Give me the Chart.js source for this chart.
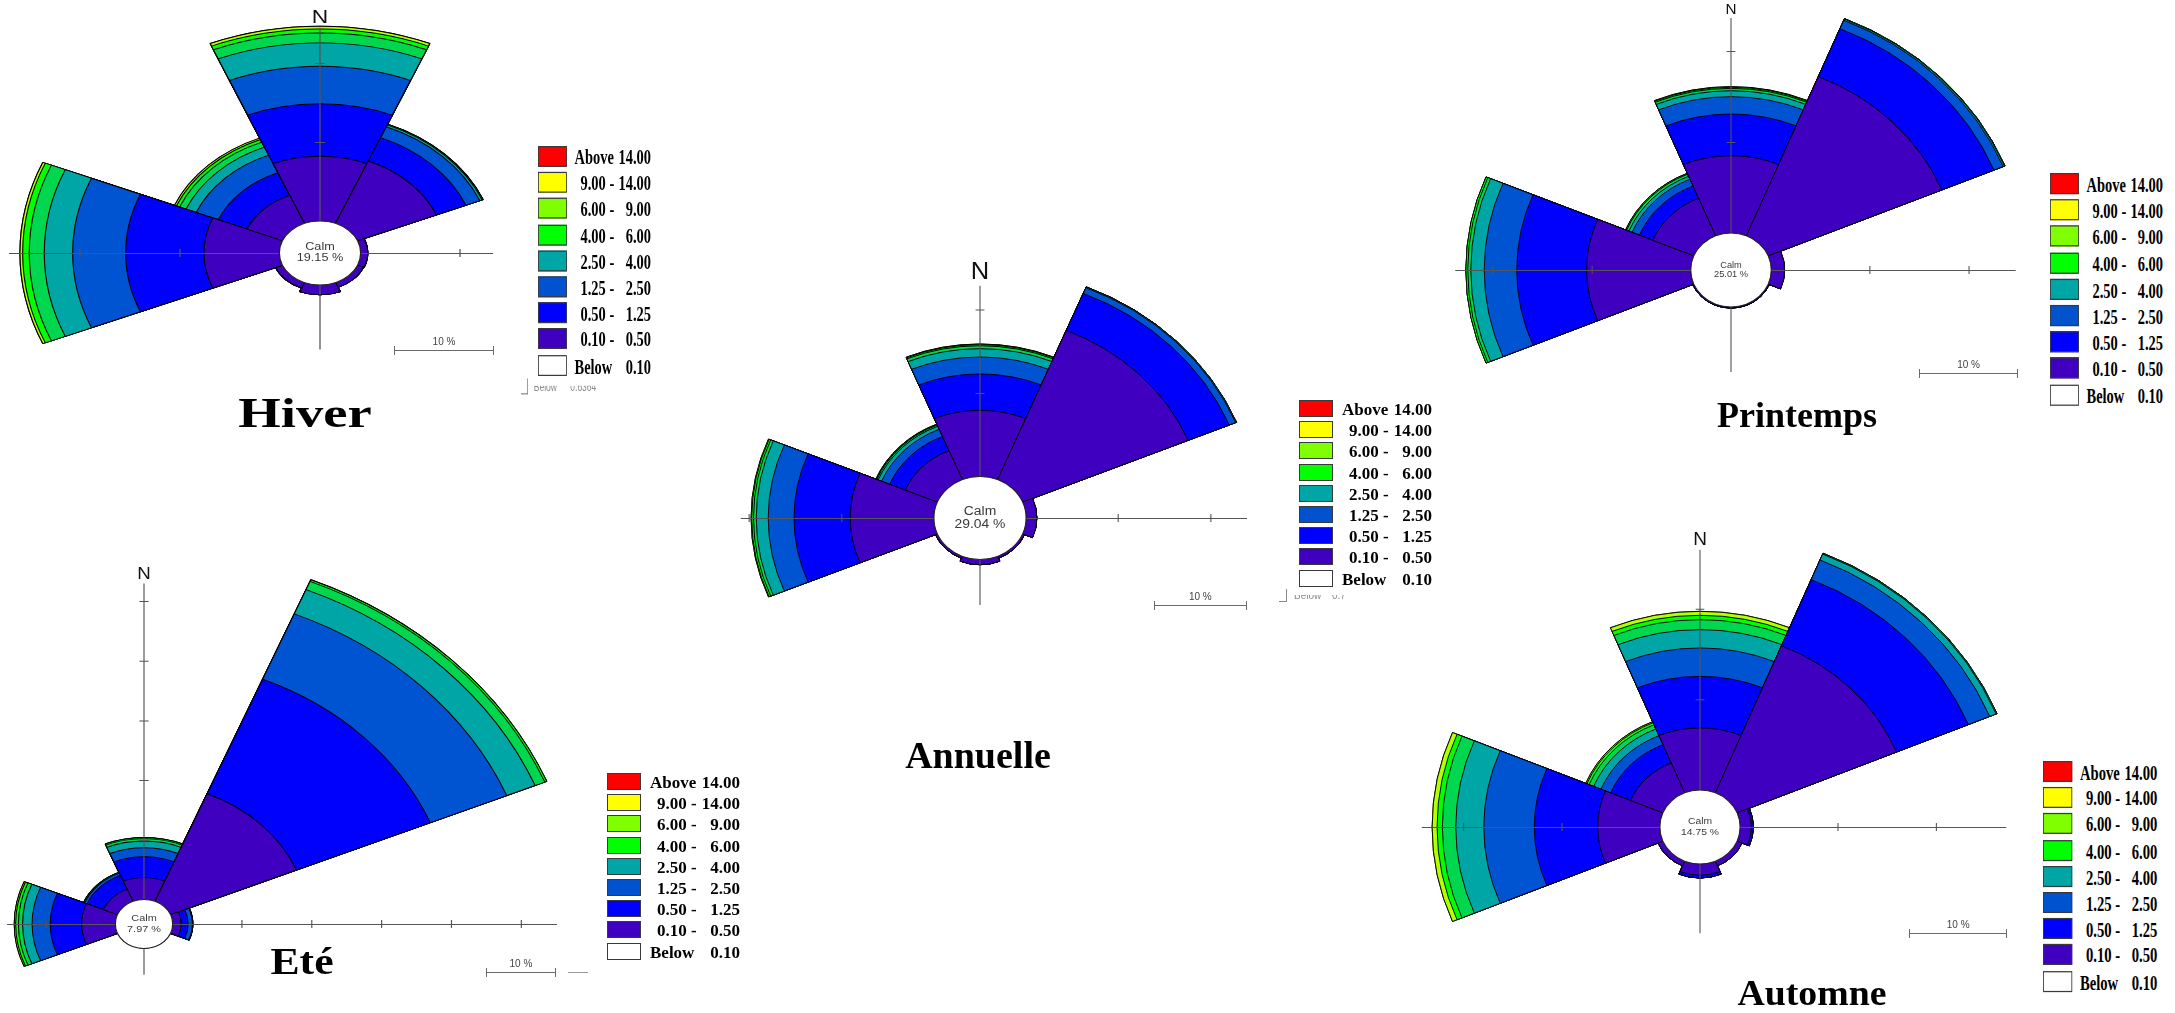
<!DOCTYPE html>
<html>
<head>
<meta charset="utf-8">
<script src="https://cdn.jsdelivr.net/npm/chart.js@4.4.1/dist/chart.umd.min.js"></script>
<style>
  html, body { margin: 0; padding: 0; background: #fff; }
  #page { position: relative; width: 2175px; height: 1013px; overflow: hidden; background: #fff; }
  canvas.rose { position: absolute; }
  .legend { position: absolute; transform-origin: 0 0; font-family: "Liberation Serif", "Times New Roman", serif; font-weight: bold; font-size: 17px; line-height: 17px; color: #000; }
  .legend .row { position: absolute; left: 0; width: 133px; height: 17px; }
  .legend .box { position: absolute; left: 0; top: 0; width: 32px; height: 15px; border: 1px solid #3a3a3a; }
  .legend .a { position: absolute; top: 1px; white-space: pre; }
  .legend .b { position: absolute; top: 1px; right: 0; white-space: pre; }
  .legend .rem { position: absolute; overflow: hidden; height: 7px; top: 195px; left: -6px; width: 120px; font-family: "Liberation Sans", Arial, sans-serif; font-weight: normal; font-size: 10px; line-height: 10px; color: #8a8a8a; white-space: pre; }
  .legend .rem span { position: absolute; top: -4px; }
  .legend .corner { position: absolute; top: 189px; left: -20px; width: 7px; height: 12px; border-right: 1px solid #8a8a8a; border-bottom: 1px solid #8a8a8a; }
  .title { position: absolute; font-family: "Liberation Serif", "Times New Roman", serif; font-weight: bold; line-height: 1; white-space: nowrap; color: #000; }
  .bar { position: absolute; height: 0; border-top: 1px solid #6a6a6a; }
  .bar .t { position: absolute; top: -5px; width: 1px; height: 9px; background: #6a6a6a; }
  .bar .lbl { position: absolute; left: 0; right: 0; top: -14px; text-align: center; font-family: "Liberation Sans", Arial, sans-serif; font-size: 10px; line-height: 10px; color: #444; }
</style>
</head>
<body>
<div id="page"></div>
<script>
// Wind directions, clockwise from north (one 45° petal each)
const DIRECTIONS = ['N', 'NE', 'E', 'SE', 'S', 'SW', 'W', 'NW'];

// Wind speed classes (m/s), innermost band first
const SPEED_CLASSES = ['0.10 - 0.50', '0.50 - 1.25', '1.25 - 2.50', '2.50 - 4.00',
                       '4.00 - 6.00', '6.00 - 9.00', '9.00 - 14.00', 'Above 14.00'];

// Frequency (%) of each speed class (rows) for each direction (columns)
const hiverFreq = [
  [8.24, 8.60, 0.77, 0.70, 1.30, 0.80, 7.60, 3.90],
  [6.66, 3.20, 0, 0, 0, 0, 7.83, 3.10],
  [4.73, 1.50, 0, 0, 0, 0, 5.30, 2.40],
  [2.97, 0.25, 0, 0, 0, 0, 2.84, 1.10],
  [1.25, 0.10, 0, 0, 0, 0, 1.50, 0.70],
  [0.50, 0, 0, 0, 0, 0, 0.66, 0.35],
  [0.35, 0, 0, 0, 0, 0, 0.27, 0.20],
  [0, 0, 0, 0, 0, 0, 0, 0]
];
const annuelleFreq = [
  [7.98, 19.40, 1.22, 0.30, 0.68, 0.30, 9.09, 3.82],
  [4.36, 4.80, 0, 0, 0, 0, 6.07, 1.83],
  [2.03, 0.75, 0, 0, 0, 0, 2.78, 0.94],
  [1.00, 0.10, 0, 0, 0, 0, 1.29, 0.40],
  [0.35, 0, 0, 0, 0, 0, 0.30, 0.15],
  [0.13, 0, 0, 0, 0, 0, 0.19, 0.08],
  [0.08, 0, 0, 0, 0, 0, 0.07, 0.04],
  [0, 0, 0, 0, 0, 0, 0, 0]
];
const printempsFreq = [
  [8.56, 19.00, 1.40, 0.18, 0.18, 0.18, 10.55, 4.54],
  [4.58, 5.70, 0, 0, 0, 0, 7.05, 1.46],
  [1.91, 1.00, 0, 0, 0, 0, 3.28, 0.80],
  [0.65, 0.15, 0, 0, 0, 0, 1.35, 0.35],
  [0.26, 0.05, 0, 0, 0, 0, 0.31, 0.25],
  [0.12, 0, 0, 0, 0, 0, 0.19, 0.10],
  [0.07, 0, 0, 0, 0, 0, 0, 0],
  [0, 0, 0, 0, 0, 0, 0, 0]
];
const eteFreq = [
  [3.74, 19.60, 1.30, 0, 0, 0, 4.90, 2.30],
  [3.51, 20.75, 1.00, 0, 0, 0, 4.50, 2.50],
  [1.51, 11.85, 0.60, 0, 0, 0, 2.60, 0.40],
  [1.12, 4.40, 0.07, 0, 0, 0, 1.36, 0.15],
  [0.40, 1.50, 0, 0, 0, 0, 0.60, 0],
  [0.20, 0.30, 0, 0, 0, 0, 0.40, 0],
  [0, 0, 0, 0, 0, 0, 0.20, 0],
  [0, 0, 0, 0, 0, 0, 0, 0]
];
const automneFreq = [
  [6.90, 17.60, 1.20, 0.60, 1.30, 0.60, 6.37, 3.62],
  [5.69, 7.90, 0.20, 0, 0.30, 0, 6.45, 2.19],
  [3.13, 2.35, 0, 0, 0, 0, 5.13, 1.07],
  [2.02, 0.70, 0, 0, 0, 0, 2.85, 0.80],
  [1.10, 0.10, 0, 0, 0, 0, 1.36, 0.50],
  [0.48, 0, 0, 0, 0, 0, 0.54, 0.25],
  [0.44, 0, 0, 0, 0, 0, 0.50, 0.12],
  [0, 0, 0, 0, 0, 0, 0, 0]
];

// Calm frequencies (%)
const CALM = { hiver: 19.15, annuelle: 29.04, printemps: 25.01, ete: 7.97, automne: 14.75 };

// Season titles
const TITLES = { hiver: 'Hiver', annuelle: 'Annuelle', printemps: 'Printemps', ete: 'Eté', automne: 'Automne' };

// Legend rows (top to bottom)
const LEGEND_FROM = ['Above', '9.00 -', '6.00 -', '4.00 -', '2.50 -', '1.25 -', '0.50 -', '0.10 -', 'Below'];
const LEGEND_TO   = ['14.00', '14.00', '9.00', '6.00', '4.00', '2.50', '1.25', '0.50', '0.10'];
const LEGEND_COLORS = ['#ff0000', '#ffff00', '#80ff00', '#00ff00', '#00a6a6', '#0052cf', '#0000ff', '#3f00bf', '#ffffff'];

// Band colours of the petals, innermost class first
const PETAL_COLORS = ['#3f00bf', '#0000fd', '#0053d1', '#00a6a6', '#00d64e', '#00ff00', '#b4ff00', '#ff0000'];

const page = document.getElementById('page');

function cumulate(freq) {
  const out = [];
  let acc = DIRECTIONS.map(() => 0);
  freq.forEach(row => { acc = acc.map((v, i) => v + row[i]); out.push(acc.slice()); });
  return out;
}

// Horizontal stretch applied to the petals (drawn around the rose centre)
const stretchPlugin = {
  id: 'stretch',
  beforeDatasetsDraw(chart, args, o) {
    const s = chart.scales.r, ctx = chart.ctx;
    ctx.save();
    ctx.translate(s.xCenter, s.yCenter);
    ctx.scale(o.sx, 1);
    ctx.translate(-s.xCenter, -s.yCenter);
  },
  afterDatasetsDraw(chart) { chart.ctx.restore(); }
};

// Axes with 10 % ticks, calm circle and the north label
const overlayPlugin = {
  id: 'roseOverlay',
  afterDraw(chart, args, o) {
    const s = chart.scales.r, ctx = chart.ctx;
    const R = v => s.getDistanceFromCenterForValue(v);
    ctx.save();
    ctx.translate(s.xCenter, s.yCenter);
    ctx.scale(o.sx, 1);
    ctx.strokeStyle = '#555';
    ctx.lineWidth = 1;
    const [l, r, t, b] = o.reach;
    ctx.beginPath();
    ctx.moveTo(-R(l), 0.5); ctx.lineTo(R(r), 0.5);
    ctx.moveTo(0, -R(t)); ctx.lineTo(0, R(b));
    const tk = 4;
    for (let v = 10; v <= l; v += 10) { ctx.moveTo(-R(v), -tk); ctx.lineTo(-R(v), tk); }
    for (let v = 10; v <= r; v += 10) { ctx.moveTo(R(v), -tk); ctx.lineTo(R(v), tk); }
    for (let v = 10; v <= t; v += 10) { ctx.moveTo(-tk, -R(v)); ctx.lineTo(tk, -R(v)); }
    for (let v = 10; v <= b; v += 10) { ctx.moveTo(-tk, R(v)); ctx.lineTo(tk, R(v)); }
    ctx.stroke();

    // calm circle
    ctx.beginPath();
    ctx.arc(0, 0, R(0) + 0.5, 0, Math.PI * 2);
    ctx.fillStyle = '#fff';
    ctx.fill();
    ctx.strokeStyle = '#222';
    ctx.lineWidth = 1;
    ctx.stroke();
    ctx.fillStyle = '#3a3a3a';
    ctx.textAlign = 'center';
    ctx.textBaseline = 'middle';
    ctx.font = o.calmFont + 'px "Liberation Sans", Arial, sans-serif';
    ctx.fillText('Calm', 0, -0.55 * o.calmFont);
    ctx.fillText(o.calm.toFixed(2) + ' %', 0, 0.55 * o.calmFont);

    // north label
    ctx.font = o.nFont + 'px "Liberation Sans", Arial, sans-serif';
    const w = ctx.measureText('N').width;
    ctx.fillStyle = '#fff';
    ctx.fillRect(-w / 2 - 3, -o.nOff - o.nFont * 0.42, w + 6, o.nFont * 0.84);
    ctx.fillStyle = '#111';
    ctx.fillText('N', 0, -o.nOff + 1);
    ctx.restore();
  }
};

function buildRose(freq, calm, L) {
  const W = 2 * Math.ceil(L.D * L.sx + 6);
  const H = 2 * L.D;
  const canvas = document.createElement('canvas');
  canvas.className = 'rose';
  canvas.width = W; canvas.height = H;
  canvas.style.width = W + 'px'; canvas.style.height = H + 'px';
  canvas.style.left = (Math.round(L.cx) - W / 2) + 'px';
  canvas.style.top = (Math.round(L.cy) - L.D) + 'px';
  page.appendChild(canvas);

  const cum = cumulate(freq);
  const datasets = cum.map((row, i) => ({
    label: SPEED_CLASSES[i],
    data: row,
    backgroundColor: PETAL_COLORS[i],
    borderColor: '#000',
    borderWidth: 0.9
  }));

  new Chart(canvas, {
    type: 'polarArea',
    data: { labels: DIRECTIONS, datasets },
    options: {
      responsive: false,
      animation: false,
      devicePixelRatio: 1,
      events: [],
      layout: { padding: 0 },
      plugins: {
        legend: { display: false },
        tooltip: { enabled: false },
        stretch: { sx: L.sx },
        roseOverlay: { sx: L.sx, reach: L.reach, calm, calmFont: L.calmFont, nFont: L.nFont, nOff: L.nOff }
      },
      scales: {
        r: {
          display: false,
          min: -L.c,
          max: L.D / L.k - L.c,
          startAngle: -22.5,
          ticks: { display: false },
          grid: { display: false },
          angleLines: { display: false },
          pointLabels: { display: false }
        }
      }
    },
    plugins: [stretchPlugin, overlayPlugin]
  });
}

// Legend: base row pitch 21.2 px, scaled as a block; optional greyed leftover row below
function buildLegend(x, y, sx, sy, leftover) {
  const el = document.createElement('div');
  el.className = 'legend';
  el.style.left = x + 'px';
  el.style.top = y + 'px';
  el.style.transform = 'scale(' + sx + ',' + sy + ')';
  LEGEND_COLORS.forEach((col, i) => {
    const row = document.createElement('div');
    row.className = 'row';
    row.style.top = (i * 21.2) + 'px';
    const box = document.createElement('span');
    box.className = 'box';
    box.style.background = col;
    const a = document.createElement('span');
    a.className = 'a';
    a.style.left = (i === 0 || i === 8 ? 43 : 50) + 'px';
    a.textContent = LEGEND_FROM[i];
    const b = document.createElement('span');
    b.className = 'b';
    b.textContent = LEGEND_TO[i];
    row.append(box, a, b);
    el.appendChild(row);
  });
  if (leftover) {
    const corner = document.createElement('div');
    corner.className = 'corner';
    const rem = document.createElement('div');
    rem.className = 'rem';
    rem.innerHTML = '<span style="left:1px">Below</span><span style="left:' + leftover.at + 'px">' + leftover.text + '</span>';
    el.append(corner, rem);
  }
  page.appendChild(el);
}

function buildTitle(text, cx, baseline, size, sx) {
  const el = document.createElement('div');
  el.className = 'title';
  el.textContent = text;
  el.style.fontSize = size + 'px';
  el.style.left = cx + 'px';
  el.style.top = (baseline - 0.8375 * size) + 'px';
  el.style.transform = 'translateX(-50%) scaleX(' + sx + ')';
  page.appendChild(el);
}

function buildBar(x, y, len) {
  const el = document.createElement('div');
  el.className = 'bar';
  el.style.left = x + 'px';
  el.style.top = y + 'px';
  el.style.width = len + 'px';
  el.innerHTML = '<div class="t" style="left:0"></div><div class="t" style="right:0"></div><div class="lbl">10 %</div>';
  page.appendChild(el);
}

// Rose layouts: centre, stretch, px per %, calm radius (%), half height, axis reach (% l,r,t,b)
const LAYOUT = {
  hiver:     { cx: 320,  cy: 253, sx: 1.266, k: 7.9,  c: 4.0,  D: 250, reach: [27.1, 13.3, 24.5, 8.2],  calmFont: 10,  nFont: 18, nOff: 236 },
  annuelle:  { cx: 980,  cy: 518, sx: 1.11,  k: 8.35, c: 4.91, D: 262, reach: [20.9, 23.9, 22.9, 5.5],  calmFont: 12.5, nFont: 23, nOff: 246 },
  printemps: { cx: 1731, cy: 270, sx: 1.09,  k: 9.1,  c: 4.0,  D: 285, reach: [23.8, 24.7, 23.7, 7.2],  calmFont: 8.5, nFont: 14, nOff: 261 },
  ete:       { cx: 144,  cy: 924, sx: 1.17,  k: 5.97, c: 4.02, D: 380, reach: [15.6, 55.1, 53.0, 4.5],  calmFont: 9.3, nFont: 16, nOff: 350 },
  automne:   { cx: 1700, cy: 827, sx: 1.085, k: 9.07, c: 4.02, D: 305, reach: [24.25, 27.1, 26.55, 7.7], calmFont: 9.5, nFont: 17.5, nOff: 288 }
};

buildRose(hiverFreq, CALM.hiver, LAYOUT.hiver);
buildRose(annuelleFreq, CALM.annuelle, LAYOUT.annuelle);
buildRose(printempsFreq, CALM.printemps, LAYOUT.printemps);
buildRose(eteFreq, CALM.ete, LAYOUT.ete);
buildRose(automneFreq, CALM.automne, LAYOUT.automne);

// 10 % scale bars
const barLen = L => 10 * L.k * L.sx;
buildBar(394, 350, barLen(LAYOUT.hiver));
buildBar(1154, 605, barLen(LAYOUT.annuelle));
buildBar(1919, 373, barLen(LAYOUT.printemps));
buildBar(486, 972, barLen(LAYOUT.ete));
buildBar(1909, 933, barLen(LAYOUT.automne));

// small grey stub right of the summer scale bar
const stub = document.createElement('div');
stub.style.cssText = 'position:absolute;left:568px;top:972px;width:20px;border-top:1px solid #9a9a9a;';
page.appendChild(stub);

// Legends
buildLegend(538, 146, 0.85, 1.23, { text: '0.6364', at: 44 });
buildLegend(1299, 400, 1, 1, { text: '0.7', at: 39 });
buildLegend(607, 773, 1, 1);
buildLegend(2050, 173, 0.85, 1.245);
buildLegend(2043, 761, 0.86, 1.236);

// Titles
buildTitle(TITLES.hiver, 305, 427, 42, 1.3);
buildTitle(TITLES.annuelle, 978, 768, 38, 1);
buildTitle(TITLES.printemps, 1797, 427, 36, 1.0);
buildTitle(TITLES.ete, 302, 974, 38, 1.15);
buildTitle(TITLES.automne, 1812, 1005, 35, 1.08);
</script>
</body>
</html>
